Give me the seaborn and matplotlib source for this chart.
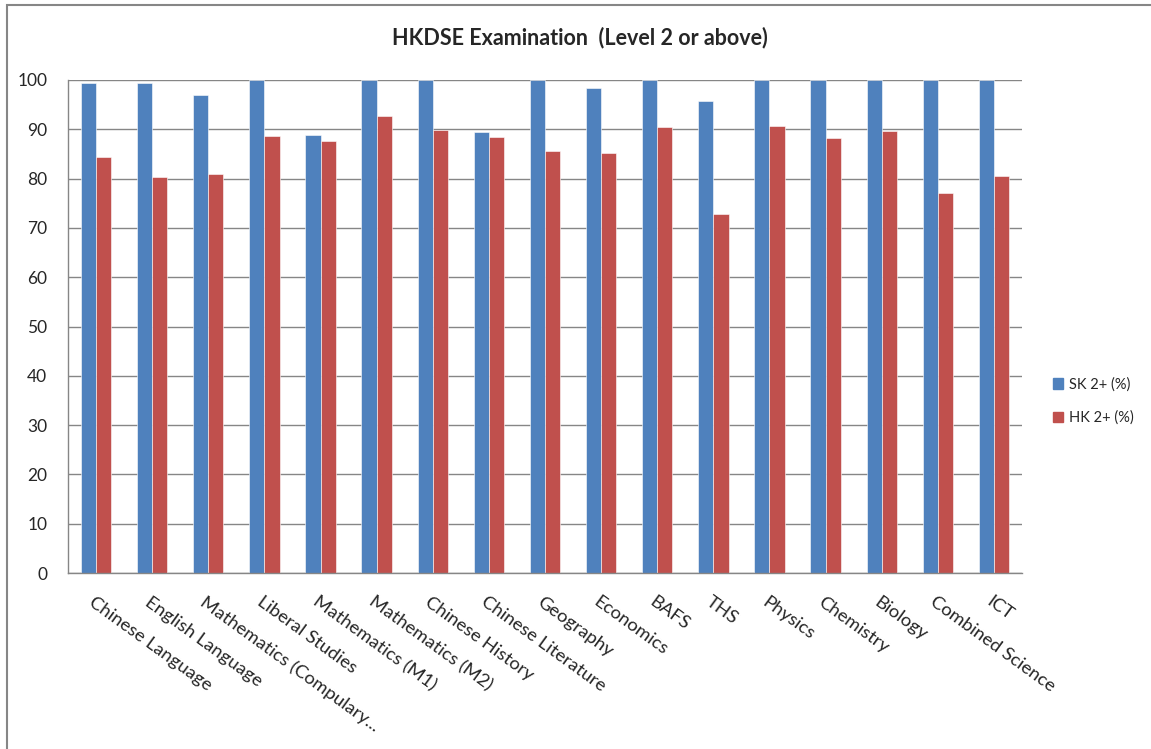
import matplotlib
matplotlib.use("Agg")
import pandas as pd
import matplotlib.pyplot as plt
import matplotlib.patches as mpatches
import seaborn as sns

# =============================
#  Data
# =============================
subjects = [
    "Chinese Language", "English Language", "Mathematics (Compulary...",
    "Liberal Studies", "Mathematics (M1)", "Mathematics (M2)",
    "Chinese History", "Chinese Literature", "Geography", "Economics",
    "BAFS", "THS", "Physics", "Chemistry", "Biology", "Combined Science", "ICT",
]
sk_pass = [99.3, 99.3, 97.0, 100, 88.8, 100, 100, 89.4, 100, 98.3,
           100, 95.8, 100, 100, 100, 100, 100]
hk_pass = [84.3, 80.4, 81.0, 88.6, 87.7, 92.7, 89.9, 88.4, 85.5, 85.1,
           90.5, 72.9, 90.7, 88.2, 89.6, 77.1, 80.6]
series_names = ["SK 2+ (%)", "HK 2+ (%)"]
yticks = list(range(0, 101, 10))

df = pd.DataFrame({
    "subject": subjects * 2,
    "series": [series_names[0]] * len(subjects) + [series_names[1]] * len(subjects),
    "value": sk_pass + hk_pass,
})

# =============================
#  Figure
# =============================
sns.set_style("white")
plt.rcParams["font.family"] = ["Lato", "DejaVu Sans"]

fig = plt.figure(figsize=(11.51, 7.49), dpi=100)
ax = fig.add_axes([68 / 1151, 1 - 573 / 749, (1022 - 68) / 1151, (573 - 80) / 749])

palette = {series_names[0]: "#4F81BD", series_names[1]: "#C0504D"}
sns.barplot(data=df, x="subject", y="value", hue="series", palette=palette,
            width=0.54, saturation=1, ax=ax, legend=False,
            edgecolor="white", linewidth=0.4)

ax.set_ylim(0, 100)
ax.set_xlim(-0.5, len(subjects) - 0.5)
ax.set_yticks(yticks)
ax.set_yticklabels([str(t) for t in yticks], fontsize=12.5)
ax.yaxis.grid(True, color="#868686", linewidth=1)
ax.set_axisbelow(True)
ax.set_xlabel("")
ax.set_ylabel("")

# category boundary ticks on x
ax.set_xticks([i - 0.5 for i in range(len(subjects) + 1)])
ax.set_xticklabels([])
ax.tick_params(axis="x", direction="out", length=5, color="#868686", width=1)
ax.tick_params(axis="y", direction="out", length=5, color="#868686", width=1, pad=10)
for i, s in enumerate(subjects):
    ax.text(i - 0.02, -4.2, s, rotation=-36, ha="left", va="top",
            rotation_mode="anchor", fontsize=13.3, transform=ax.transData)

for side in ["top", "right"]:
    ax.spines[side].set_visible(False)
for side in ["left", "bottom"]:
    ax.spines[side].set_color("#868686")
    ax.spines[side].set_linewidth(1)

fig.text(580 / 1151, 1 - 38 / 749, "HKDSE Examination  (Level 2 or above)",
         ha="center", va="center", fontsize=15.5, fontweight="bold")

handles = [mpatches.Patch(color=palette[n], label=n) for n in series_names]
fig.legend(handles=handles, loc="center left", bbox_to_anchor=(1040 / 1151, 1 - 401 / 749),
           frameon=False, fontsize=10.5, handlelength=0.7, handleheight=0.7,
           labelspacing=1.3, handletextpad=0.4)

fig.add_artist(mpatches.Rectangle((7 / 1151, -0.05), 1.2, 1.05 - 5 / 749,
                                  transform=fig.transFigure, fill=False,
                                  edgecolor="#868686", linewidth=1.5))

plt.savefig("out.png", dpi=100)
plt.close()
